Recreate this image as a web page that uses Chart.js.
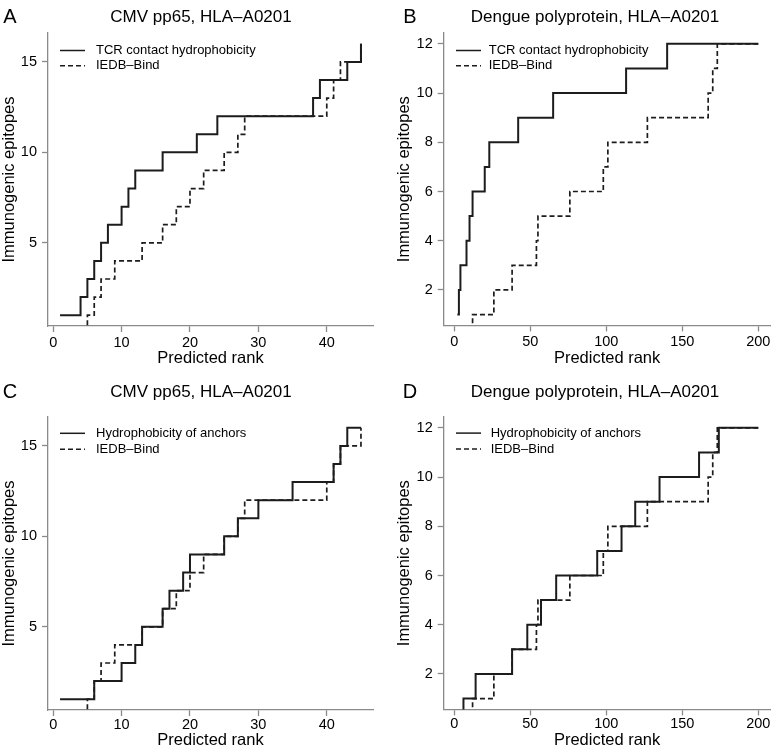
<!DOCTYPE html>
<html>
<head>
<meta charset="utf-8">
<script src="https://cdn.jsdelivr.net/npm/chart.js@4/dist/chart.umd.min.js"></script>
<style>
html,body{margin:0;padding:0;background:#fff;}
#wrap{position:relative;width:772px;height:754px;background:#fff;overflow:hidden;}
canvas{position:absolute;}
</style>
</head>
<body>
<div id="wrap">
<canvas id="cA" width="386" height="377" style="left:0px;top:0px"></canvas>
<canvas id="cB" width="386" height="377" style="left:386px;top:0px"></canvas>
<canvas id="cC" width="386" height="370" style="left:0px;top:384px"></canvas>
<canvas id="cD" width="386" height="370" style="left:386px;top:384px"></canvas>
</div>
<script>
// ---------- data ----------
const panelLetters = ['A', 'B', 'C', 'D'];
const panelTitles = ['CMV pp65, HLA\u2013A0201', 'Dengue polyprotein, HLA\u2013A0201',
                     'CMV pp65, HLA\u2013A0201', 'Dengue polyprotein, HLA\u2013A0201'];
const xAxisTitle = 'Predicted rank';
const yAxisTitle = 'Immunogenic epitopes';
const labelTcr = 'TCR contact hydrophobicity';
const labelAnchor = 'Hydrophobicity of anchors';
const labelIedb = 'IEDB\u2013Bind';

const xTicksCmv = [0, 10, 20, 30, 40];
const yTicksCmv = [5, 10, 15];
const xTicksDengue = [0, 50, 100, 150, 200];
const yTicksDengue = [2, 4, 6, 8, 10, 12];

// CMV pp65 (panels A, C)
const cmvTcrRank    = [1, 4, 5, 6, 7, 8, 10, 11, 12, 16, 21, 24, 38, 39, 43, 45];
const cmvTcrCount   = [1, 2, 3, 4, 5, 6, 7, 8, 9, 10, 11, 12, 13, 14, 15, 16];
const cmvIedbRank   = [5, 5, 6, 7, 9, 13, 16, 18, 20, 22, 25, 27, 28, 40, 41, 42, 45];
const cmvIedbCount  = [0, 1, 2, 3, 4, 5, 6, 7, 8, 9, 10, 11, 12, 13, 14, 15, 16];
const cmvAnchorRank  = [1, 6, 10, 12, 13, 16, 17, 19, 20, 25, 27, 30, 35, 41, 42, 43, 45];
const cmvAnchorCount = [1, 2, 3, 4, 5, 6, 7, 8, 9, 10, 11, 12, 13, 14, 15, 16, 16];

// Dengue polyprotein (panels B, D)
const dengueTcrRank    = [2, 3, 4, 8, 10, 12, 20, 23, 42, 65, 113, 140, 200];
const dengueTcrCount   = [1, 2, 3, 4, 5, 6, 7, 8, 9, 10, 11, 12, 12];
const dengueIedbRank   = [12, 12, 26, 38, 54, 55, 76, 98, 101, 127, 167, 170, 173, 200];
const dengueIedbCount  = [0, 1, 2, 3, 4, 5, 6, 7, 8, 9, 10, 11, 12, 12];
const dengueAnchorRank  = [6, 6, 14, 38, 48, 57, 67, 94, 110, 119, 135, 161, 174, 200];
const dengueAnchorCount = [0, 1, 2, 3, 4, 5, 6, 7, 8, 9, 10, 11, 12, 12];

// ---------- helpers ----------
const FONT = '"Liberation Sans", Arial, Helvetica, sans-serif';
Chart.defaults.font.family = FONT;
Chart.defaults.color = '#000';

const toPoints = (xs, ys) => xs.map((x, i) => ({ x: x, y: ys[i] }));
const LINE = '#1c1c1c';
const AXIS = '#8a8a8a';
const TICK_SIZE = 14.5;

function solidSet(label, xs, ys) {
  return { label, data: toPoints(xs, ys), stepped: true, borderColor: LINE, borderWidth: 2,
           pointRadius: 0, fill: false, tension: 0, legendWidth: 1.5 };
}
function dashedSet(label, xs, ys) {
  return { label, data: toPoints(xs, ys), stepped: true, borderColor: LINE, borderWidth: 1.7,
           borderDash: [5, 3], pointRadius: 0, fill: false, tension: 0, legendWidth: 1.5 };
}

const panelTextPlugin = {
  id: 'panelText',
  afterDraw(chart, args, o) {
    const ctx = chart.ctx;
    ctx.save();
    ctx.fillStyle = '#000';
    ctx.textBaseline = 'middle';
    ctx.textAlign = 'center';
    ctx.font = '20px ' + FONT;
    ctx.fillText(o.letter, o.letterX, o.letterY);
    ctx.font = '17px ' + FONT;
    ctx.fillText(o.title, o.titleX, o.titleY);
    // x tick labels, placed by the x scale
    const s = chart.scales.x;
    ctx.font = TICK_SIZE + 'px ' + FONT;
    s.ticks.forEach(t => {
      const lbl = (t.label !== undefined && t.label !== null) ? t.label : String(t.value);
      ctx.fillText(lbl, s.getPixelForValue(t.value), s.top + o.xLabelOffset);
    });
    ctx.restore();
  }
};

const stepLegendPlugin = {
  id: 'stepLegend',
  afterDatasetsDraw(chart, args, o) {
    const ctx = chart.ctx;
    const a = chart.chartArea;
    ctx.save();
    chart.data.datasets.forEach((ds, i) => {
      const y = a.top + o.top + i * o.gap;
      ctx.beginPath();
      ctx.setLineDash(ds.borderDash || []);
      ctx.lineWidth = ds.legendWidth || ds.borderWidth;
      ctx.strokeStyle = ds.borderColor;
      ctx.moveTo(a.left + o.x0, y);
      ctx.lineTo(a.left + o.x1, y);
      ctx.stroke();
      ctx.setLineDash([]);
      ctx.fillStyle = '#000';
      ctx.font = '13px ' + FONT;
      ctx.textBaseline = 'middle';
      ctx.textAlign = 'left';
      ctx.fillText(ds.label, a.left + o.tx, y);
    });
    ctx.restore();
  }
};

function makePanel(id, datasets, geo) {
  return new Chart(document.getElementById(id), {
    type: 'line',
    data: { datasets },
    plugins: [panelTextPlugin, stepLegendPlugin],
    options: {
      responsive: false,
      animation: false,
      devicePixelRatio: 1,
      events: [],
      layout: { padding: { left: 0, right: geo.padRight, top: geo.padTop, bottom: 0 } },
      plugins: {
        legend: { display: false },
        tooltip: { enabled: false },
        title: { display: false },
        panelText: geo.text,
        stepLegend: geo.legend
      },
      scales: {
        x: {
          type: 'linear',
          min: geo.xMin, max: geo.xMax,
          afterBuildTicks: s => { s.ticks = geo.xTicks.map(v => ({ value: v })); },
          afterFit: s => { s.height = geo.xH; },
          ticks: { display: false, autoSkip: false, maxRotation: 0, padding: 3, font: { size: TICK_SIZE }, color: '#000' },
          grid: { display: true, drawOnChartArea: false, drawTicks: true, tickLength: 6, tickWidth: 1.3, color: AXIS },
          border: { display: true, color: AXIS, width: 1.3 },
          title: { display: true, text: xAxisTitle, font: { size: 16.5 }, color: '#000',
                   padding: { top: 0, bottom: geo.xTitlePad } }
        },
        y: {
          type: 'linear',
          min: geo.yMin, max: geo.yMax,
          afterBuildTicks: s => { s.ticks = geo.yTicks.map(v => ({ value: v })); },
          afterFit: s => { s.width = geo.yW; },
          ticks: { autoSkip: false, padding: 5, font: { size: TICK_SIZE }, color: '#000' },
          grid: { display: true, drawOnChartArea: false, drawTicks: true, tickLength: 6, tickWidth: 1.3, color: AXIS },
          border: { display: true, color: AXIS, width: 1.3 },
          title: { display: true, text: yAxisTitle, font: { size: 16.5 }, color: '#000',
                   padding: { top: geo.yTitlePad, bottom: 0 } }
        }
      }
    }
  });
}

makePanel('cA', [
  solidSet(labelTcr, cmvTcrRank, cmvTcrCount),
  dashedSet(labelIedb, cmvIedbRank, cmvIedbCount)
], {
  xMin: -0.76, xMax: 46.76, yMin: 0.4, yMax: 16.6, xTicks: xTicksCmv, yTicks: yTicksCmv,
  padRight: 13, padTop: 33, yW: 48, xH: 51, xTitlePad: 9, yTitlePad: 0,
  text: { letter: panelLetters[0], letterX: 10, letterY: 17, title: panelTitles[0], titleX: 201, titleY: 17, xLabelOffset: 17 },
  legend: { top: 17.5, gap: 15.3, x0: 12, x1: 37, tx: 48 }
});

makePanel('cB', [
  solidSet(labelTcr, dengueTcrRank, dengueTcrCount),
  dashedSet(labelIedb, dengueIedbRank, dengueIedbCount)
], {
  xMin: -7, xMax: 208, yMin: 0.56, yMax: 12.44, xTicks: xTicksDengue, yTicks: yTicksDengue,
  padRight: 1.5, padTop: 33, yW: 57.7, xH: 51.6, xTitlePad: 9, yTitlePad: 8.5,
  text: { letter: panelLetters[1], letterX: 24, letterY: 17, title: panelTitles[1], titleX: 209, titleY: 17, xLabelOffset: 17 },
  legend: { top: 17.5, gap: 15.3, x0: 12.3, x1: 37.3, tx: 45 }
});

makePanel('cC', [
  solidSet(labelAnchor, cmvAnchorRank, cmvAnchorCount),
  dashedSet(labelIedb, cmvIedbRank, cmvIedbCount)
], {
  xMin: -0.76, xMax: 46.76, yMin: 0.4, yMax: 16.6, xTicks: xTicksCmv, yTicks: yTicksCmv,
  padRight: 13, padTop: 33, yW: 48, xH: 44, xTitlePad: 4, yTitlePad: 0,
  text: { letter: panelLetters[2], letterX: 10, letterY: 8, title: panelTitles[2], titleX: 201, titleY: 8, xLabelOffset: 15 },
  legend: { top: 16.3, gap: 16, x0: 12, x1: 37, tx: 48 }
});

makePanel('cD', [
  solidSet(labelAnchor, dengueAnchorRank, dengueAnchorCount),
  dashedSet(labelIedb, dengueIedbRank, dengueIedbCount)
], {
  xMin: -7, xMax: 208, yMin: 0.56, yMax: 12.44, xTicks: xTicksDengue, yTicks: yTicksDengue,
  padRight: 1.5, padTop: 33, yW: 57.7, xH: 44.6, xTitlePad: 4, yTitlePad: 8.5,
  text: { letter: panelLetters[3], letterX: 24, letterY: 8, title: panelTitles[3], titleX: 209, titleY: 8, xLabelOffset: 15 },
  legend: { top: 16.1, gap: 16, x0: 12.3, x1: 37.3, tx: 47 }
});
</script>
</body>
</html>
